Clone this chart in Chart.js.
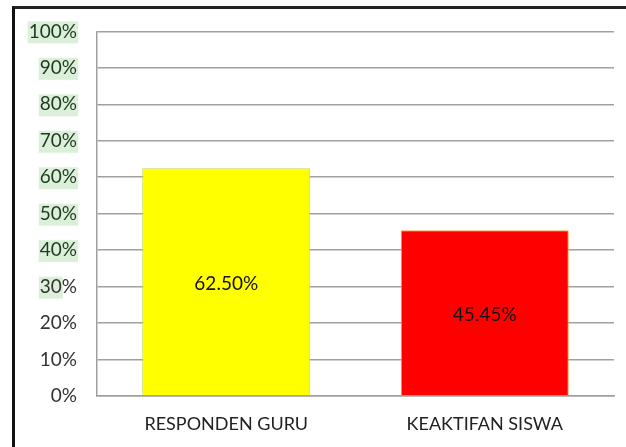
<!DOCTYPE html>
<html>
<head>
<meta charset="utf-8">
<script src="https://cdn.jsdelivr.net/npm/chart.js@4"></script>
<style>
  html, body { margin: 0; padding: 0; background: #fff; }
  #wrap { position: relative; width: 626px; height: 447px; overflow: hidden; background: #fff; }
  #frame { position: absolute; left: 12px; top: 6px; width: 700px; height: 500px;
           border-left: 3px solid #111; border-top: 3px solid #222; }
  canvas { position: absolute; left: 0; top: 0; }
</style>
</head>
<body>
<div id="wrap">
  <div id="frame"></div>
  <canvas id="chart" width="626" height="447"></canvas>
</div>
<script>
// data
var kategori = ["RESPONDEN GURU", "KEAKTIFAN SISWA"];
var nilai = [62.50, 45.45];
var warna = ["#ffff00", "#ff0000"];
var randWarna = ["#c9d64a", "#f5a05a"];
// tick labels that have the light green marking behind them
var markiert = [100, 90, 80, 70, 60, 50, 40];
var halbMarkiert = [30];

var schrift = "Lato, 'Open Sans', sans-serif";
var tickGroesse = 19;

// green marks behind y labels (drawn behind everything)
var markPlugin = {
    id: 'mark',
    afterDraw: function (chart) {
        var ctx = chart.ctx;
        var y = chart.scales.y;
        ctx.save();
        ctx.globalCompositeOperation = "destination-over";
        ctx.font = tickGroesse + "px " + schrift;
        ctx.fillStyle = "#dcf0d9";
        var rechts = y.right - 20;
        markiert.concat(halbMarkiert).forEach(function (v) {
            var txt = halbMarkiert.indexOf(v) >= 0 ? String(v) : v + "%";
            var full = ctx.measureText(v + "%").width;
            var w = ctx.measureText(txt).width;
            var py = y.getPixelForValue(v);
            var links = rechts - full - 1;
            ctx.fillRect(links, py - 10, w + 2, 22);
        });
        ctx.restore();
    }
};

// value labels in the bars
var wertPlugin = {
    id: 'werte',
    afterDatasetsDraw: function (chart) {
        var ctx = chart.ctx;
        var meta = chart.getDatasetMeta(0);
        ctx.save();
        ctx.font = "19px " + schrift;
        ctx.fillStyle = "#111";
        ctx.textAlign = "center";
        ctx.textBaseline = "middle";
        meta.data.forEach(function (bar, i) {
            var mitte = (bar.y + bar.base) / 2;
            ctx.fillText(nilai[i].toFixed(2) + "%", bar.x, mitte + 2);
        });
        ctx.restore();
    }
};

var myChart = new Chart(document.getElementById("chart"), {
    type: 'bar',
    data: {
        labels: kategori,
        datasets: [{
            data: nilai,
            backgroundColor: warna,
            borderColor: randWarna,
            borderWidth: 1,
            categoryPercentage: 0.65,
            barPercentage: 1.0
        }]
    },
    options: {
        responsive: false,
        animation: false,
        layout: { padding: { left: 0, top: 30, right: 12, bottom: 0 } },
        plugins: {
            legend: { display: false },
            tooltip: { enabled: false }
        },
        scales: {
            x: {
                grid: { display: false, drawTicks: false },
                border: { color: "#a0a0a0", width: 1.5 },
                ticks: {
                    color: "#222",
                    padding: 17,
                    font: { family: schrift, size: 18 }
                },
                afterFit: function (s) { s.height = 51; }
            },
            y: {
                min: 0,
                max: 100,
                grid: { color: "#a0a0a0", lineWidth: 1.5, drawTicks: false },
                border: { color: "#a0a0a0", width: 1.5 },
                ticks: {
                    stepSize: 10,
                    padding: 20,
                    color: function (c) { return c.tick.value >= 40 ? "#1f3a22" : "#333"; },
                    font: { family: schrift, size: tickGroesse },
                    callback: function (v) { return v + "%"; }
                },
                afterFit: function (s) { s.width = 97; }
            }
        }
    },
    plugins: [markPlugin, wertPlugin]
});
</script>
</body>
</html>
